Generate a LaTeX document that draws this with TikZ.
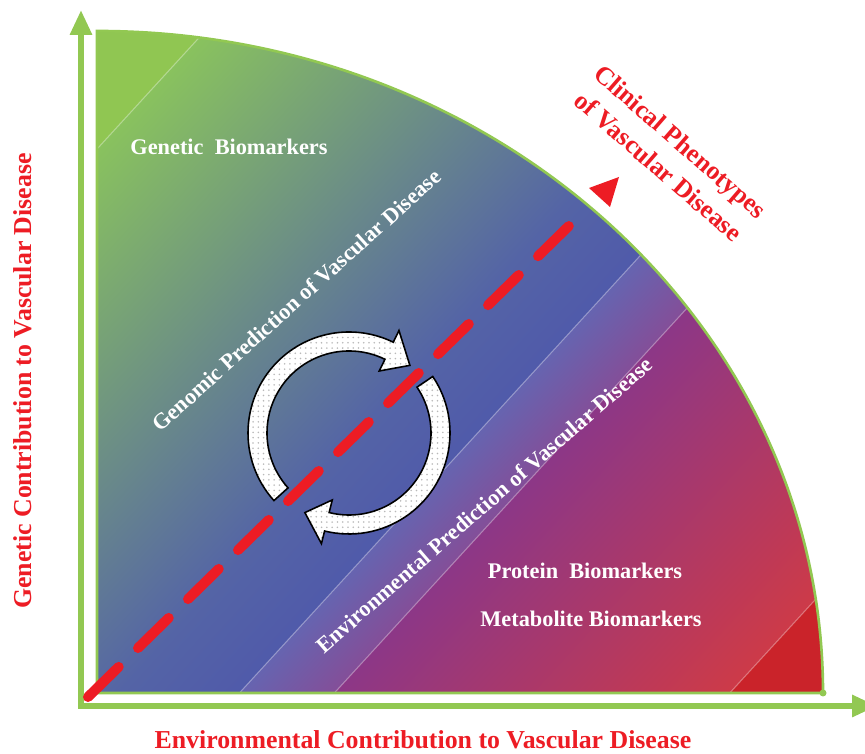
\documentclass[tikz,border=0pt]{standalone}
\usepackage{fontspec}
\setmainfont{Liberation Serif}
\usepackage{tkz-euclide}
\usetikzlibrary{calc,arrows.meta,patterns}

\definecolor{axisgreen}{RGB}{146,200,82}
\definecolor{vasred}{RGB}{237,28,36}
\definecolor{gA}{RGB}{144,198,82}
\definecolor{gB}{RGB}{137,194,94}
\definecolor{gC}{RGB}{112,158,135}
\definecolor{bA}{RGB}{84,100,166}
\definecolor{bB}{RGB}{80,90,170}
\definecolor{lA}{RGB}{102,100,176}
\definecolor{lB}{RGB}{132,78,152}
\definecolor{pA}{RGB}{140,55,135}
\definecolor{pB}{RGB}{168,55,110}
\definecolor{pC}{RGB}{205,58,72}
\definecolor{rA}{RGB}{202,35,42}

\tikzset{
  whitelabel/.style={text=white,font=\bfseries\fontsize{12.7}{15}\selectfont,inner sep=0pt},
  redlabel/.style={text=vasred,font=\bfseries\fontsize{14.7}{19}\selectfont,inner sep=0pt},
  cyclearrow/.style={draw=black,line width=0.9pt,preaction={fill=white},
    pattern=dots,pattern color=gray!55},
  bandline/.style={white,opacity=.35,line width=.6pt}
}

\begin{document}
\begin{tikzpicture}[scale=1]
    \useasboundingbox (-1.94,-1.22) rectangle (15.36,13.86);
    \tkzDefPoint(0,0){O}
    \tkzDefPoint(0,13.24){T}
    \tkzDefPoint(14.52,0){R}
    \tkzDefPoint(-0.32,13.66){Ya}
    \tkzDefPoint(-0.32,-0.26){Ax}
    \tkzDefPoint(15.6,-0.26){Xa}
    \tkzDefPoint(-0.18,-0.08){Da}
    \tkzDefPoint(9.56,9.46){Db}
    \tkzDefPoint(9.84,10.1){Pa}
    \tkzDefPoint(10.44,10.32){Pb}
    \tkzDefPoint(10.26,9.72){Pc}
    \tkzDefPoint(5.04,5.2){C}
    % quarter disc in bands
    \begin{scope}
      \clip (O) -- (T) arc[start angle=90,end angle=0,x radius=14.52,y radius=13.24] -- cycle;
      \begin{scope}[transform canvas={rotate=-42.5}]
        \fill[gA] (-12,-15) rectangle (-7.33,22);
        \shade[left color=gB,middle color=gC,right color=bA] (-7.35,-15) rectangle (0.32,22);
        \shade[left color=bA,right color=bB] (0.3,-15) rectangle (2.12,22);
        \shade[left color=lA,right color=lB] (2.1,-15) rectangle (3.52,22);
        \shade[left color=pA,middle color=pB,right color=pC] (3.5,-15) rectangle (9.35,22);
        \fill[rA] (9.33,-15) rectangle (12,22);
        \draw[bandline] (-7.35,-15) -- (-7.35,22);
        \draw[bandline] (2.1,-15) -- (2.1,22);
        \draw[bandline] (3.5,-15) -- (3.5,22);
        \draw[bandline] (9.33,-15) -- (9.33,22);
      \end{scope}
    \end{scope}
    \draw[axisgreen,line width=1.5pt] (O) -- (T)
      arc[start angle=90,end angle=0,x radius=14.52,y radius=13.24] -- cycle;
    \fill[axisgreen] (R) circle (0.07);
    % axes
    \draw[axisgreen,line width=0.12cm,
      {Triangle[length=0.5cm,width=0.42cm]}-{Triangle[length=0.5cm,width=0.42cm]}]
      (Ya) -- (Ax) -- (Xa);
    % the cycle
    \draw[cyclearrow,shift={(C)}] (222:2.02) arc[start angle=222,end angle=64,radius=2.02]
      -- (64:2.28) -- (48:1.82) -- (64:1.38) -- (64:1.64)
      arc[start angle=64,end angle=222,radius=1.64] -- cycle;
    \draw[cyclearrow,shift={(C)}] (34:2.02) arc[start angle=34,end angle=-104,radius=2.02]
      -- (-104:2.28) -- (-119:1.82) -- (-104:1.38) -- (-104:1.64)
      arc[start angle=-104,end angle=34,radius=1.64] -- cycle;
    %\tkzDrawPoints(C)
    \tkzDrawSegment[vasred,line width=0.2cm,dash pattern=on 0.86cm off 0.54cm](Da,Db)
    \fill[vasred] (Pa) -- (Pb) -- (Pc) -- cycle;
    % labels
    \node[whitelabel] (genbio) at (2.64,10.92) {Genetic\ \ Biomarkers};
    \node[whitelabel] (probio) at (9.76,2.44) {Protein\ \ Biomarkers};
    \node[whitelabel] (metbio) at (9.88,1.48) {Metabolite Biomarkers};
    \node[whitelabel,rotate=42] (genpred) at (3.99,7.86) {Genomic Prediction of Vascular Disease};
    \node[whitelabel,rotate=41] (envpred) at (7.74,3.76) {Environmental Prediction of Vascular Disease};
    \node[redlabel,rotate=-41,align=center] (clin) at (11.45,10.78) {Clinical Phenotypes\\of Vascular Disease};
    \node[redlabel] (envaxis) at (6.52,-0.94) {Environmental Contribution to Vascular Disease};
    \node[redlabel,rotate=90] (genaxis) at (-1.48,6.24) {Genetic Contribution to Vascular Disease};
\end{tikzpicture}
\end{document}
